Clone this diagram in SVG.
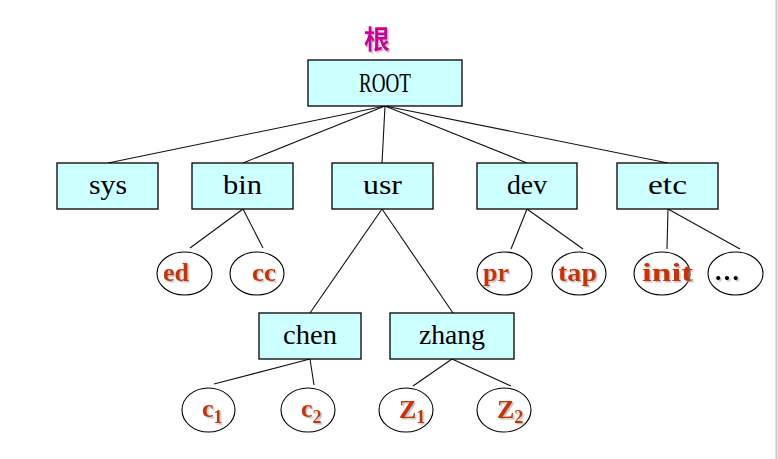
<svg xmlns="http://www.w3.org/2000/svg" width="778" height="459" viewBox="0 0 778 459">
<defs>
<filter id="sh" x="-20%" y="-20%" width="150%" height="150%">
<feDropShadow dx="1.5" dy="1.5" stdDeviation="0.6" flood-color="#999" flood-opacity="0.6"/>
</filter>
<style>
.box{fill:#CCFFFF;stroke:#000;stroke-width:1.3}
.ell{fill:#fff;stroke:#000;stroke-width:1.1}
.lbl{font-family:"Liberation Serif","DejaVu Serif",serif;font-size:27px;fill:#000}
.red{font-family:"Liberation Serif","DejaVu Serif",serif;font-size:26px;font-weight:bold;fill:#CC3300;filter:url(#sh)}
.sub{font-size:18px}
.conn line{stroke:#111;stroke-width:1.1}
</style>
</defs>
<rect width="778" height="459" fill="#fff"/>
<line x1="776.5" y1="0" x2="776.5" y2="459" stroke="#c8c8c8" stroke-width="2"/>
<text x="377" y="49" text-anchor="middle" font-family="'Noto Sans CJK SC',sans-serif" font-size="26" font-weight="bold" fill="#CC0099" filter="url(#sh)">根</text>
<g id="connectors" class="conn">
<line x1="385" y1="106" x2="108" y2="163"/>
<line x1="385" y1="106" x2="243" y2="163"/>
<line x1="385" y1="106" x2="382" y2="163"/>
<line x1="385" y1="106" x2="527" y2="163"/>
<line x1="385" y1="106" x2="668" y2="163"/>
<line x1="243" y1="209" x2="190" y2="248"/>
<line x1="243" y1="209" x2="263" y2="248"/>
<line x1="382" y1="209" x2="310" y2="313"/>
<line x1="382" y1="209" x2="453" y2="313"/>
<line x1="527" y1="209" x2="511" y2="249"/>
<line x1="527" y1="209" x2="583" y2="249"/>
<line x1="668" y1="209" x2="667" y2="249"/>
<line x1="668" y1="209" x2="740" y2="249"/>
<line x1="310" y1="359" x2="214" y2="384"/>
<line x1="310" y1="359" x2="314" y2="385"/>
<line x1="452" y1="359" x2="413" y2="386"/>
<line x1="452" y1="359" x2="511" y2="386"/>
</g>
<g id="root"><rect class="box" x="308" y="60" width="154" height="46"/><text class="lbl" x="359" y="92" textLength="52" lengthAdjust="spacingAndGlyphs">ROOT</text></g>
<g id="sys"><rect class="box" x="57" y="163" width="101" height="46"/><text class="lbl" x="89" y="194" textLength="38" lengthAdjust="spacingAndGlyphs">sys</text></g>
<g id="bin"><rect class="box" x="192" y="163" width="101" height="46"/><text class="lbl" x="223" y="194" textLength="39" lengthAdjust="spacingAndGlyphs">bin</text></g>
<g id="usr"><rect class="box" x="332" y="163" width="101" height="46"/><text class="lbl" x="363" y="194" textLength="39" lengthAdjust="spacingAndGlyphs">usr</text></g>
<g id="dev"><rect class="box" x="477" y="163" width="100" height="46"/><text class="lbl" x="507" y="194" textLength="40" lengthAdjust="spacingAndGlyphs">dev</text></g>
<g id="etc"><rect class="box" x="617" y="163" width="101" height="46"/><text class="lbl" x="648" y="194" textLength="39" lengthAdjust="spacingAndGlyphs">etc</text></g>
<g id="chen"><rect class="box" x="259" y="313" width="102" height="46"/><text class="lbl" x="283" y="344" textLength="54" lengthAdjust="spacingAndGlyphs">chen</text></g>
<g id="zhang"><rect class="box" x="390" y="313" width="124" height="46"/><text class="lbl" x="419" y="344" textLength="66" lengthAdjust="spacingAndGlyphs">zhang</text></g>
<g id="ed"><ellipse class="ell" cx="184.5" cy="273.5" rx="27.5" ry="21.5"/><text class="red" x="163" y="281" textLength="26" lengthAdjust="spacingAndGlyphs">ed</text></g>
<g id="cc"><ellipse class="ell" cx="257" cy="273.5" rx="27" ry="21.5"/><text class="red" x="252" y="281" textLength="24" lengthAdjust="spacingAndGlyphs">cc</text></g>
<g id="pr"><ellipse class="ell" cx="504.5" cy="273.5" rx="27.5" ry="21.5"/><text class="red" x="483" y="281" textLength="26" lengthAdjust="spacingAndGlyphs">pr</text></g>
<g id="tap"><ellipse class="ell" cx="579" cy="273.5" rx="27" ry="21.5"/><text class="red" x="558" y="281" textLength="39" lengthAdjust="spacingAndGlyphs">tap</text></g>
<g id="init"><ellipse class="ell" cx="662" cy="273.5" rx="28" ry="21.5"/><text class="red" x="642" y="281" textLength="51" lengthAdjust="spacingAndGlyphs">init</text></g>
<g id="more"><ellipse class="ell" cx="735.5" cy="273.5" rx="27.5" ry="21.5"/><text class="red" x="715" y="280" textLength="24" lengthAdjust="spacing" style="fill:#000">...</text></g>
<g id="c1"><ellipse class="ell" cx="208.5" cy="410" rx="26.5" ry="22"/><text class="red" x="202" y="417">c<tspan class="sub" dy="6">1</tspan></text></g>
<g id="c2"><ellipse class="ell" cx="308" cy="410" rx="27" ry="22"/><text class="red" x="301" y="417">c<tspan class="sub" dy="6">2</tspan></text></g>
<g id="z1"><ellipse class="ell" cx="406" cy="410" rx="27" ry="22"/><text class="red" x="399" y="418">Z<tspan class="sub" dy="5">1</tspan></text></g>
<g id="z2"><ellipse class="ell" cx="504" cy="410" rx="27" ry="22"/><text class="red" x="497" y="418">Z<tspan class="sub" dy="5">2</tspan></text></g>
</svg>
